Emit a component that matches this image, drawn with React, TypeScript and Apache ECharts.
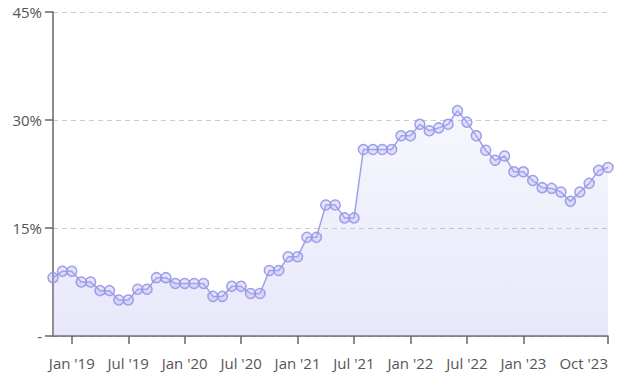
import React, { useEffect, useRef } from "react";
import * as echarts from "echarts";

const categories: string[] = [
  "Nov '18", "Dec '18",
  "Jan '19", "Feb '19", "Mar '19", "Apr '19", "May '19", "Jun '19", "Jul '19", "Aug '19", "Sep '19", "Oct '19", "Nov '19", "Dec '19",
  "Jan '20", "Feb '20", "Mar '20", "Apr '20", "May '20", "Jun '20", "Jul '20", "Aug '20", "Sep '20", "Oct '20", "Nov '20", "Dec '20",
  "Jan '21", "Feb '21", "Mar '21", "Apr '21", "May '21", "Jun '21", "Jul '21", "Aug '21", "Sep '21", "Oct '21", "Nov '21", "Dec '21",
  "Jan '22", "Feb '22", "Mar '22", "Apr '22", "May '22", "Jun '22", "Jul '22", "Aug '22", "Sep '22", "Oct '22", "Nov '22", "Dec '22",
  "Jan '23", "Feb '23", "Mar '23", "Apr '23", "May '23", "Jun '23", "Jul '23", "Aug '23", "Sep '23", "Oct '23",
];

const values: number[] = [
  8.1, 9.0,
  9.0, 7.5, 7.5, 6.3, 6.3, 5.0, 5.0, 6.5, 6.5, 8.1, 8.1, 7.3,
  7.3, 7.3, 7.3, 5.5, 5.5, 6.9, 6.9, 5.9, 5.9, 9.1, 9.1, 11.0,
  11.0, 13.7, 13.7, 18.2, 18.2, 16.4, 16.4, 25.9, 25.9, 25.9, 25.9, 27.8,
  27.8, 29.4, 28.5, 28.9, 29.4, 31.3, 29.7, 27.8, 25.8, 24.4, 25.0, 22.8,
  22.8, 21.6, 20.6, 20.5, 20.0, 18.7, 20.0, 21.2, 23.0, 23.4,
];

const xTickLabels: string[] = [
  "Jan '19", "Jul '19", "Jan '20", "Jul '20", "Jan '21", "Jul '21", "Jan '22", "Jul '22", "Jan '23", "Oct '23",
];

const yTicks: number[] = [0, 15, 30, 45];

export default function App() {
  const ref = useRef<HTMLDivElement>(null);
  useEffect(() => {
    if (!ref.current) return;
    const chart = echarts.init(ref.current, undefined, { renderer: "svg" });
    const showTick = (_i: number, v: string) => xTickLabels.includes(v);
    const fontFamily = "'Open Sans', sans-serif";
    chart.setOption({
      animation: false,
      grid: { left: 53, right: 17, top: 12, bottom: 49, containLabel: false, outerBoundsMode: "none" },
      xAxis: {
        type: "category",
        data: categories,
        boundaryGap: false,
        axisLine: { show: true, lineStyle: { color: "#666", width: 1.5 } },
        axisTick: { show: true, interval: showTick, length: 8, lineStyle: { color: "#666", width: 1.5 } },
        axisLabel: {
          interval: showTick,
          color: "#555",
          fontSize: 15,
          fontFamily,
          margin: 19,
          alignMaxLabel: "right",
        },
        splitLine: { show: false },
      },
      yAxis: {
        type: "value",
        min: yTicks[0],
        max: yTicks[yTicks.length - 1],
        interval: 15,
        axisLine: { show: true, lineStyle: { color: "#666", width: 1.5 } },
        axisTick: { show: true, length: 8, lineStyle: { color: "#666", width: 1.5 } },
        axisLabel: {
          color: "#555",
          fontSize: 15,
          fontFamily,
          margin: 11,
          formatter: (v: number) => (v === 0 ? "-" : v + "%"),
        },
        splitLine: { show: true, lineStyle: { color: "#ccc", type: [5, 4], width: 1 } },
      },
      series: [
        {
          type: "line",
          data: values,
          symbol: "circle",
          symbolSize: 10,
          showAllSymbol: true,
          lineStyle: { color: "rgba(150,150,232,0.9)", width: 1.5 },
          itemStyle: {
            color: "rgba(170,170,240,0.3)",
            borderColor: "rgba(150,150,232,0.9)",
            borderWidth: 1.5,
          },
          areaStyle: {
            color: new echarts.graphic.LinearGradient(0, 0, 0, 1, [
              { offset: 0, color: "rgba(160,160,235,0.12)" },
              { offset: 1, color: "rgba(160,160,235,0.35)" },
            ]),
          },
          emphasis: { disabled: true },
        },
      ],
    });
    return () => chart.dispose();
  }, []);
  return <div ref={ref} style={{ width: 625, height: 385, margin: -8 }} />;
}
